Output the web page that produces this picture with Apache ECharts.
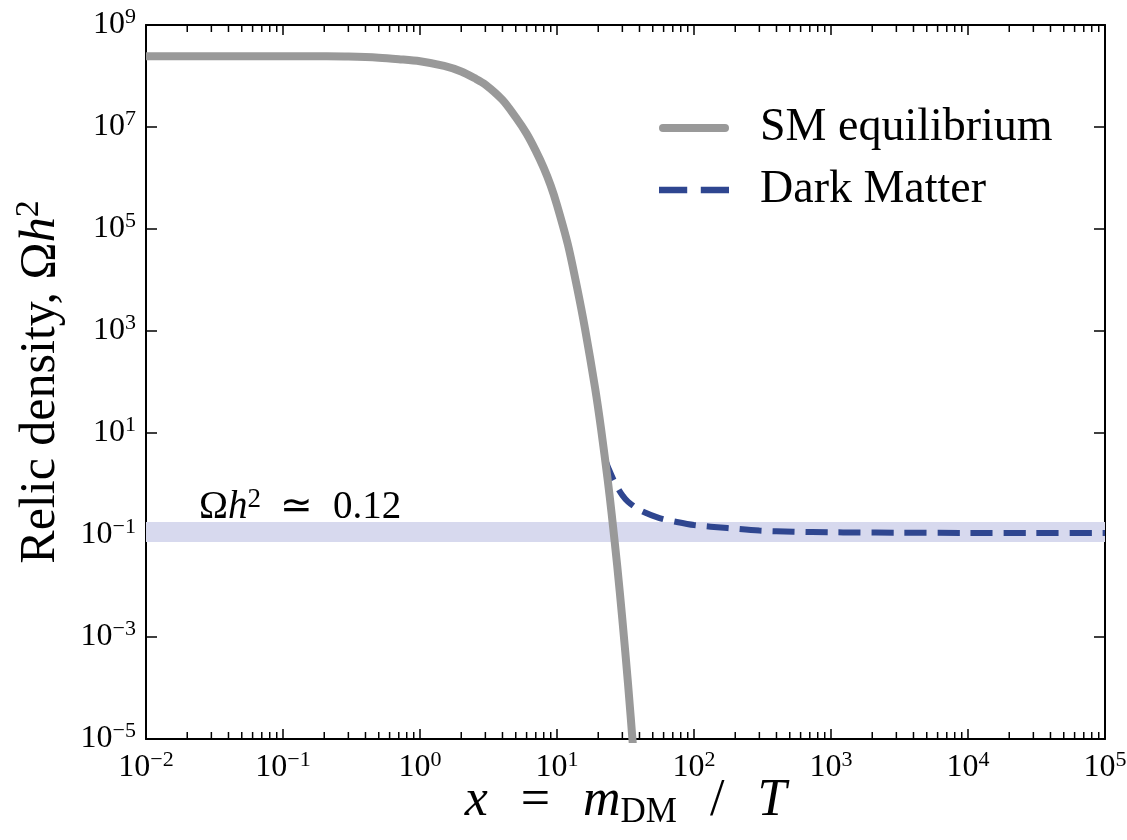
<!DOCTYPE html>
<html>
<head>
<meta charset="utf-8">
<script src="https://cdn.jsdelivr.net/npm/echarts@6/dist/echarts.min.js"></script>
<style>html,body{margin:0;padding:0;background:#fff}#c{width:1127px;height:840px}</style>
</head>
<body>
<div id="c"></div>
<script>
// ---- data ----
const xTicksExp = [-2, -1, 0, 1, 2, 3, 4, 5];
const yTicksExp = [-5, -3, -1, 1, 3, 5, 7, 9];

const smX = [0.01, 0.03, 0.1, 0.2, 0.3, 0.5, 0.7, 1, 1.5, 2, 2.5, 3, 4, 5, 6, 7, 8, 9, 10, 12, 14, 16, 19, 21, 23.5, 25, 27.5, 30, 33, 36, 37];
const smY = [2.45e8, 2.45e8, 2.45e8, 2.43e8, 2.40e8, 2.29e8, 2.14e8, 1.95e8, 1.58e8, 1.23e8, 9.1e7, 6.8e7, 3.4e7, 1.55e7, 7.4e6, 3.4e6, 1.58e6, 7.1e5, 2.95e5, 5.0e4, 7.2e3, 1.12e3, 74, 11.7, 1.15, 0.275, 0.025, 2.2e-3, 1.2e-4, 6.3e-6, 2.2e-6];

const dmX = [22.5, 24, 26.5, 30, 33, 40, 56, 75, 100, 175, 300, 530, 1000, 1500, 3000, 10000, 30000, 100000];
const dmY = [3.0, 1.9, 1.05, 0.6, 0.45, 0.31, 0.215, 0.18, 0.157, 0.137, 0.122, 0.116, 0.113, 0.112, 0.111, 0.11, 0.11, 0.11];

const bandLow = 0.073, bandHigh = 0.18;
const seriesNames = ['SM equilibrium', 'Dark Matter'];

// ---- helpers ----
const L = Math.log10;
const FONT = 'Liberation Serif';
const supText = e => String(e).replace('-', '\u2212');
const tickLabel = v => '{b|10}{s|' + supText(Math.round(v)) + '}';
const minorTicks = [];
for (let n = xTicksExp[0]; n < xTicksExp[xTicksExp.length - 1]; n++) {
  for (let k = 2; k <= 9; k++) minorTicks.push([n + L(k), 0]);
}
const labelRich = {
  b: {fontFamily: FONT, fontSize: 32, color: '#000'},
  s: {fontFamily: FONT, fontSize: 22, color: '#000', padding: [0, 0, 15, 0]}
};

const chart = echarts.init(document.getElementById('c'), null, {renderer: 'canvas'});
const axisLine = {show: true, onZero: false, lineStyle: {color: '#000', width: 2}};

chart.setOption({
  animation: false,
  backgroundColor: '#fff',
  grid: {left: 146, right: 22, top: 25, bottom: 101, containLabel: false, outerBoundsMode: 'none'},
  legend: {
    data: [
      {name: seriesNames[0], icon: 'path://M4,0H66A4,4 0 0 1 66,8H4A4,4 0 0 1 4,0Z'},
      {name: seriesNames[1], icon: 'path://M0,0H27V6H0Z M40,0H67V6H40Z'}
    ],
    orient: 'vertical', left: 654, top: 98,
    itemWidth: 70, itemHeight: 20, itemGap: 12,
    textStyle: {fontFamily: FONT, fontSize: 46, lineHeight: 50, color: '#000', padding: [0, 0, 0, 26]}
  },
  xAxis: [{
    type: 'value', min: xTicksExp[0], max: xTicksExp[xTicksExp.length - 1], interval: 1,
    position: 'bottom',
    axisLine, splitLine: {show: false},
    axisTick: {show: true, inside: true, length: 10, lineStyle: {color: '#000', width: 1.5}},
    axisLabel: {margin: 10, formatter: tickLabel, rich: labelRich},
    name: '{i|x}{r|=}{i|m}{sub|DM}{r|/}{i|T}',
    nameLocation: 'middle', nameGap: 34, nameMoveOverlap: false,
    nameTextStyle: {rich: {
      i: {fontFamily: FONT, fontSize: 52, fontStyle: 'italic', color: '#000'},
      r: {fontFamily: FONT, fontSize: 52, color: '#000', padding: [0, 33, 0, 33]},
      sub: {fontFamily: FONT, fontSize: 35, color: '#000', padding: [22, 0, 0, 0]}
    }}
  }, {
    type: 'value', min: xTicksExp[0], max: xTicksExp[xTicksExp.length - 1], interval: 1,
    position: 'top',
    axisLine, splitLine: {show: false},
    axisTick: {show: true, inside: true, length: 10, lineStyle: {color: '#000', width: 1.5}},
    axisLabel: {show: false}
  }],
  yAxis: [{
    type: 'value', min: yTicksExp[0], max: yTicksExp[yTicksExp.length - 1], interval: 2,
    position: 'left',
    axisLine, splitLine: {show: false},
    axisTick: {show: true, inside: true, length: 11, lineStyle: {color: '#000', width: 1.5}},
    axisLabel: {margin: 10, formatter: tickLabel, rich: labelRich},
    name: '{r|Relic density, \u03A9}{i|h}{s|2}',
    nameLocation: 'middle', nameGap: 76, nameRotate: 90, nameMoveOverlap: false,
    nameTextStyle: {rich: {
      r: {fontFamily: FONT, fontSize: 50, color: '#000'},
      i: {fontFamily: FONT, fontSize: 50, fontStyle: 'italic', color: '#000'},
      s: {fontFamily: FONT, fontSize: 34, color: '#000', padding: [0, 0, 24, 0]}
    }}
  }, {
    type: 'value', min: yTicksExp[0], max: yTicksExp[yTicksExp.length - 1], interval: 2,
    position: 'right',
    axisLine, splitLine: {show: false},
    axisTick: {show: true, inside: true, length: 11, lineStyle: {color: '#000', width: 1.5}},
    axisLabel: {show: false}
  }],
  series: [
    {
      name: 'band', type: 'line', data: [], silent: true,
      markArea: {
        silent: true,
        itemStyle: {color: '#d7d9ee'},
        label: {
          show: true, position: [53, 7], align: 'left', verticalAlign: 'bottom',
          formatter: '{o|\u03A9}{i|h}{s|2}{o|  \u2243  0.12}',
          rich: {
            o: {fontFamily: FONT, fontSize: 39, color: '#000'},
            i: {fontFamily: FONT, fontSize: 39, fontStyle: 'italic', color: '#000'},
            s: {fontFamily: FONT, fontSize: 27, color: '#000', padding: [0, 0, 16, 0]}
          }
        },
        data: [[{xAxis: xTicksExp[0], yAxis: L(bandHigh)}, {xAxis: xTicksExp[xTicksExp.length - 1], yAxis: L(bandLow)}]]
      }
    },
    {
      name: seriesNames[1], type: 'line', showSymbol: false, symbol: 'none',
      smooth: 0.3, clip: true,
      lineStyle: {color: '#2f4690', width: 6, type: [22, 11]},
      itemStyle: {color: '#2f4690'},
      data: dmX.map((x, i) => [L(x), L(dmY[i])]),
      z: 3
    },
    {
      name: seriesNames[0], type: 'line', showSymbol: false, symbol: 'none',
      smooth: 0.3, clip: true,
      lineStyle: {color: '#999999', width: 8},
      itemStyle: {color: '#999999'},
      data: smX.map((x, i) => [L(x), L(smY[i])]),
      z: 4
    },
    {
      name: 'minor ticks', type: 'custom', silent: true, xAxisIndex: 0, yAxisIndex: 0,
      clip: false, data: minorTicks, z: 5,
      renderItem: (params, api) => {
        const x = api.value(0);
        const b = api.coord([x, yTicksExp[0]]);
        const t = api.coord([x, yTicksExp[yTicksExp.length - 1]]);
        const st = {stroke: '#000', lineWidth: 1.5};
        return {type: 'group', children: [
          {type: 'line', shape: {x1: b[0], y1: b[1], x2: b[0], y2: b[1] - 7}, style: st},
          {type: 'line', shape: {x1: t[0], y1: t[1], x2: t[0], y2: t[1] + 7}, style: st}
        ]};
      }
    }
  ]
});
</script>
</body>
</html>
